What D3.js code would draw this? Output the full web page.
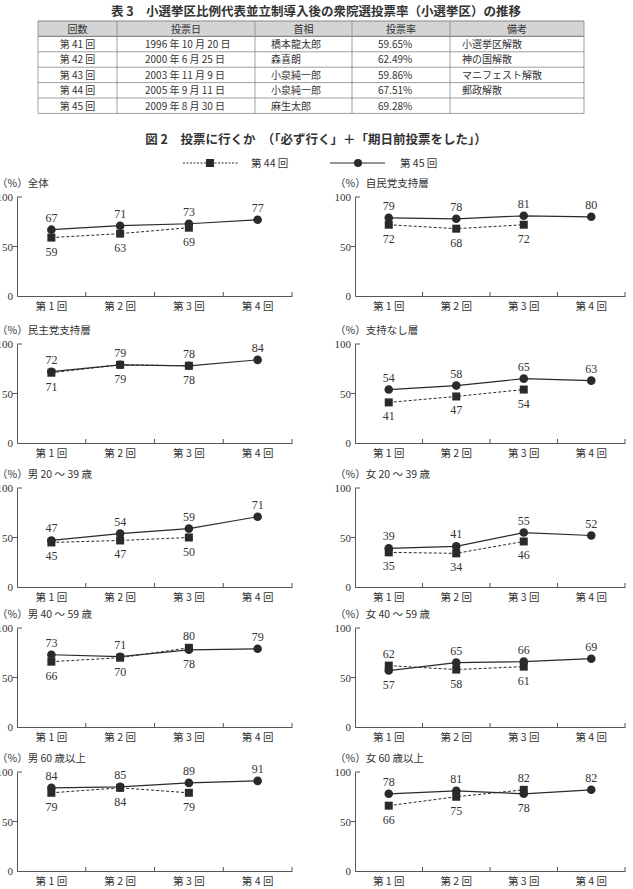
<!DOCTYPE html>
<html>
<head>
<meta charset="utf-8">
<script src="https://cdn.jsdelivr.net/npm/d3@7"></script>
<style>
  body { margin: 0; background: #fff; }
  svg { display: block; }
  text { font-family: "Noto Sans CJK JP", sans-serif; fill: #333; }
  .num { font-family: "Liberation Serif", "DejaVu Serif", serif; }
</style>
</head>
<body>
<svg id="chart" width="633" height="889"></svg>
<script>
// table 3 data
var tableHeaders = ["回数", "投票日", "首相", "投票率", "備考"];
var sessions = ["第 41 回", "第 42 回", "第 43 回", "第 44 回", "第 45 回"];
var dates = ["1996 年 10 月 20 日", "2000 年 6 月 25 日", "2003 年 11 月 9 日", "2005 年 9 月 11 日", "2009 年 8 月 30 日"];
var primeMinisters = ["橋本龍太郎", "森喜朗", "小泉純一郎", "小泉純一郎", "麻生太郎"];
var turnout = ["59.65%", "62.49%", "59.86%", "67.51%", "69.28%"];
var notes = ["小選挙区解散", "神の国解散", "マニフェスト解散", "郵政解散", ""];

// figure 2 data
var rounds = ["第 1 回", "第 2 回", "第 3 回", "第 4 回"];
var panelNames = ["全体", "自民党支持層", "民主党支持層", "支持なし層", "男 20 ～ 39 歳", "女 20 ～ 39 歳",
  "男 40 ～ 59 歳", "女 40 ～ 59 歳", "男 60 歳以上", "女 60 歳以上"];
var election44 = [[59, 63, 69], [72, 68, 72], [71, 79, 78], [41, 47, 54], [45, 47, 50],
  [35, 34, 46], [66, 70, 80], [62, 58, 61], [79, 84, 79], [66, 75, 82]];
var election45 = [[67, 71, 73, 77], [79, 78, 81, 80], [72, 79, 78, 84], [54, 58, 65, 63], [47, 54, 59, 71],
  [39, 41, 55, 52], [73, 71, 78, 79], [57, 65, 66, 69], [84, 85, 89, 91], [78, 81, 78, 82]];
var yTicks = [0, 50, 100];
var legendLabels = ["第 44 回", "第 45 回"];

var svg = d3.select("#chart");
var ink = "#2a2a2a";

// ---- table
svg.append("text").attr("x", 316).attr("y", 16).attr("text-anchor", "middle")
  .style("font-size", "12.5px").style("font-weight", "bold").attr("fill", "#222")
  .text("表 3　小選挙区比例代表並立制導入後の衆院選投票率（小選挙区）の推移");

var colX = [38, 117, 255, 352, 450, 584];
var rowTop = 21, rowH = 15.4;
svg.append("rect").attr("x", colX[0]).attr("y", rowTop).attr("width", colX[5] - colX[0]).attr("height", rowH)
  .attr("fill", "#d4d4d4");
var tableRows = sessions.map(function(s, i) {
  return [s, dates[i], primeMinisters[i], turnout[i], notes[i]];
});
// grid
for (var r = 0; r <= tableRows.length + 1; r++) {
  svg.append("line").attr("x1", colX[0]).attr("x2", colX[5])
    .attr("y1", rowTop + r * rowH).attr("y2", rowTop + r * rowH)
    .attr("stroke", "#888").attr("stroke-width", r == 0 || r == 1 ? 1.2 : 0.8);
}
colX.forEach(function(cx) {
  svg.append("line").attr("x1", cx).attr("x2", cx).attr("y1", rowTop)
    .attr("y2", rowTop + (tableRows.length + 1) * rowH).attr("stroke", "#888").attr("stroke-width", 0.8);
});
tableHeaders.forEach(function(h, j) {
  svg.append("text").attr("x", (colX[j] + colX[j + 1]) / 2).attr("y", rowTop + 11.5)
    .attr("text-anchor", "middle").style("font-size", "10px").attr("fill", "#555").text(h);
});
var cellLeft = [null, 145, 271, 378, 462];
tableRows.forEach(function(row, i) {
  row.forEach(function(v, j) {
    var t = svg.append("text").attr("y", rowTop + (i + 1) * rowH + 11.5)
      .style("font-size", "10px").attr("fill", "#444").text(v);
    if (j == 0) t.attr("x", (colX[0] + colX[1]) / 2).attr("text-anchor", "middle");
    else t.attr("x", cellLeft[j]);
  });
});

// ---- figure title + legend
svg.append("text").attr("x", 316).attr("y", 144).attr("text-anchor", "middle")
  .style("font-size", "12.5px").style("font-weight", "bold").attr("fill", "#222")
  .text("図 2　投票に行くか　（「必ず行く」＋「期日前投票をした」）");

var lg = svg.append("g");
lg.append("line").attr("x1", 183).attr("x2", 238).attr("y1", 163).attr("y2", 163)
  .attr("stroke", ink).attr("stroke-dasharray", "2,1.5").attr("stroke-width", 1);
lg.append("rect").attr("x", 206).attr("y", 159).attr("width", 8).attr("height", 8).attr("fill", ink);
lg.append("text").attr("x", 251).attr("y", 167).style("font-size", "10.5px").text(legendLabels[0]);
lg.append("line").attr("x1", 330).attr("x2", 385).attr("y1", 163).attr("y2", 163)
  .attr("stroke", ink).attr("stroke-width", 1);
lg.append("circle").attr("cx", 358).attr("cy", 163).attr("r", 4).attr("fill", ink);
lg.append("text").attr("x", 400).attr("y", 167).style("font-size", "10.5px").text(legendLabels[1]);

// ---- panels
var colRange = [[17, 292], [355, 625]];
var rowY100 = [197, 344, 488, 628, 772];
var plotH = 99;

panelNames.forEach(function(name, p) {
  var c = p % 2, r = Math.floor(p / 2);
  var x = d3.scaleBand().domain(rounds).range(colRange[c]);
  var y = d3.scaleLinear().domain([0, 100]).range([rowY100[r] + plotH, rowY100[r]]);
  var g = svg.append("g");

  g.append("text").attr("x", colRange[c][0] - 20).attr("y", rowY100[r] - 10)
    .style("font-size", "10.5px").attr("fill", "#444").text("（%）" + name);

  // y axis
  var ya = g.append("g").attr("transform", "translate(" + colRange[c][0] + ",0)")
    .call(d3.axisLeft(y).tickValues(yTicks).tickSize(0).tickPadding(4));
  ya.select(".domain").attr("stroke", "#555");
  ya.selectAll("text").attr("class", "num").style("font-size", "11px").attr("fill", "#444");
  yTicks.forEach(function(t) {
    if (t == 0) return;
    g.append("line").attr("x1", colRange[c][0] + (t == 100 ? 0 : -4)).attr("x2", colRange[c][0] + (t == 100 ? 5 : 0))
      .attr("y1", y(t)).attr("y2", y(t)).attr("stroke", "#555");
  });

  // x axis
  var xa = g.append("g").attr("transform", "translate(0," + y(0) + ")")
    .call(d3.axisBottom(x).tickSize(0).tickPadding(7));
  xa.select(".domain").attr("stroke", "#555");
  xa.selectAll("text").style("font-size", "10.5px").attr("fill", "#444");
  rounds.forEach(function(d) {
    var bx = x(d) + x.bandwidth();
    g.append("line").attr("x1", bx).attr("x2", bx).attr("y1", y(0)).attr("y2", y(0) - 4).attr("stroke", "#555");
  });

  var cx = function(d, i) { return x(rounds[i]) + x.bandwidth() / 2; };
  var line = d3.line().x(cx).y(function(d) { return y(d); });

  g.append("path").datum(election44[p]).attr("d", line).attr("fill", "none")
    .attr("stroke", ink).attr("stroke-width", 1).attr("stroke-dasharray", "3,2");
  g.append("path").datum(election45[p]).attr("d", line).attr("fill", "none")
    .attr("stroke", ink).attr("stroke-width", 1.2);

  g.selectAll("rect.m44").data(election44[p]).enter().append("rect")
    .attr("x", function(d, i) { return cx(d, i) - 4; }).attr("y", function(d) { return y(d) - 4; })
    .attr("width", 8).attr("height", 8).attr("fill", ink);
  g.selectAll("circle.m45").data(election45[p]).enter().append("circle")
    .attr("cx", cx).attr("cy", function(d) { return y(d); }).attr("r", 4.3).attr("fill", ink);

  // labels: higher value above, lower below
  election45[p].forEach(function(v, i) {
    var o = election44[p][i];
    var up = (o === undefined) || v >= o;
    g.append("text").attr("class", "num").attr("x", cx(v, i)).attr("y", y(v) + (up ? -8 : 18))
      .attr("text-anchor", "middle").style("font-size", "12px").attr("fill", "#444").text(v);
    if (o !== undefined) {
      g.append("text").attr("class", "num").attr("x", cx(o, i)).attr("y", y(o) + (up ? 18 : -8))
        .attr("text-anchor", "middle").style("font-size", "12px").attr("fill", "#444").text(o);
    }
  });
});
</script>
</body>
</html>
